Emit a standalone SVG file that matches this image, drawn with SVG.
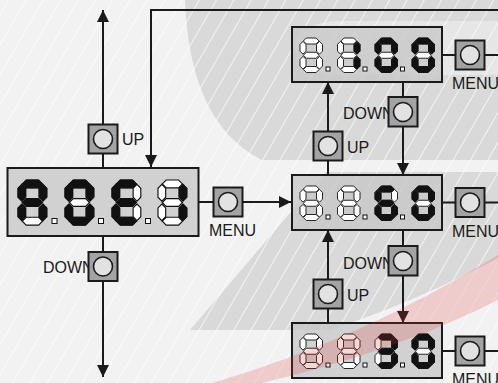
<svg xmlns="http://www.w3.org/2000/svg" xmlns:xlink="http://www.w3.org/1999/xlink" width="498" height="383" viewBox="0 0 498 383">
<defs>
<style>
.ln{stroke:#1a1a1a;stroke-width:2;fill:none}
.btn rect{fill:#a3a3a3;stroke:#1a1a1a;stroke-width:2}
.btn circle{fill:#e2e2e2;stroke:#1a1a1a;stroke-width:1.6}
.lbl{font-family:"Liberation Sans",Arial,sans-serif;font-size:16px;fill:#1a1a1a}
.disp{fill:#c6c6c6;fill-opacity:.75;stroke:#1a1a1a;stroke-width:2}
.on{fill:#111;stroke:#111}
.dot{fill:#fff;stroke:#111;stroke-width:1}
</style>
<pattern id="hatch" patternUnits="userSpaceOnUse" width="15" height="15" patternTransform="rotate(30)">
<line x1="7.5" y1="0" x2="7.5" y2="15" stroke="#fff" stroke-width="0.9"/>
</pattern>
<marker id="ar" viewBox="0 0 12 12" refX="12" refY="6" markerWidth="12" markerHeight="12" markerUnits="userSpaceOnUse" orient="auto">
<path d="M0,0 L12,6 L0,12 Z" fill="#1a1a1a"/>
</marker>
<polygon id="sa" points="4.5,4 8.5,0 21.5,0 25.5,4 21.5,8 8.5,8"/>
<polygon id="sg" points="4.5,23 8.5,19 21.5,19 25.5,23 21.5,27 8.5,27"/>
<polygon id="sd" points="4.5,42 8.5,38 21.5,38 25.5,42 21.5,46 8.5,46"/>
<polygon id="sf" points="4,4.5 8,8.5 8,17.5 4,21.5 0,17.5 0,8.5"/>
<polygon id="sb" points="26,4.5 30,8.5 30,17.5 26,21.5 22,17.5 22,8.5"/>
<polygon id="se" points="4,24.5 8,28.5 8,37.5 4,41.5 0,37.5 0,28.5"/>
<polygon id="sc" points="26,24.5 30,28.5 30,37.5 26,41.5 22,37.5 22,28.5"/>
<g id="d8" fill="#fff" stroke="#111" stroke-width="1.2">
<use href="#sa"/><use href="#sb"/><use href="#sc"/><use href="#sd"/><use href="#se"/><use href="#sf"/><use href="#sg"/>
</g>
</defs>

<!-- background -->
<rect width="498" height="383" fill="#f2f2f2"/>
<path d="M185,0 H498 V160 H262 C212,135 188,80 185,0 Z" fill="#d9d9d9"/>
<path d="M498,21 H340 C310,21 295,35 295,50 C295,65 310,75 340,75 H498 Z" fill="#e6e6e6"/>
<path d="M325,172 H498 V258 Q420,300 330,330 H190 Z" fill="#d9d9d9"/>
<rect width="498" height="383" fill="url(#hatch)" opacity="0.75"/>

<!-- connectors -->
<g id="connectors" class="ln">
<line x1="103" y1="168" x2="103" y2="10" marker-end="url(#ar)"/>
<line x1="103" y1="236" x2="103" y2="377" marker-end="url(#ar)"/>
<path d="M498,10 H151 V167" marker-end="url(#ar)"/>
<line x1="198.5" y1="202" x2="291" y2="202" marker-end="url(#ar)"/>
<line x1="442" y1="55" x2="498" y2="55"/>
<line x1="442" y1="202.5" x2="498" y2="202.5"/>
<line x1="442" y1="351" x2="498" y2="351"/>
<line x1="328" y1="175" x2="328" y2="82" marker-end="url(#ar)"/>
<line x1="403" y1="82" x2="403" y2="175" marker-end="url(#ar)"/>
<line x1="328" y1="323" x2="328" y2="230" marker-end="url(#ar)"/>
<line x1="403" y1="230" x2="403" y2="323" marker-end="url(#ar)"/>
</g>

<!-- main display -->
<g id="display-main">
<rect class="disp" x="7.5" y="168" width="191" height="68"/>
<g transform="translate(18,180) scale(0.96,0.98)"><use href="#d8"/><use href="#sa" class="on"/><use href="#sb" class="on"/><use href="#sc" class="on"/><use href="#se" class="on"/><use href="#sf" class="on"/><use href="#sg" class="on"/></g>
<g transform="translate(65,180) scale(0.96,0.98)"><use href="#d8"/><use href="#sa" class="on"/><use href="#sb" class="on"/><use href="#sc" class="on"/><use href="#sd" class="on"/><use href="#se" class="on"/><use href="#sf" class="on"/></g>
<g transform="translate(112,180) scale(0.96,0.98)"><use href="#d8"/><use href="#sa" class="on"/><use href="#sd" class="on"/><use href="#se" class="on"/><use href="#sf" class="on"/><use href="#sg" class="on"/></g>
<g transform="translate(158,180) scale(0.96,0.98)"><use href="#d8"/><use href="#sb" class="on"/><use href="#sc" class="on"/></g>
<rect class="dot" x="52" y="218.5" width="5" height="5"/>
<rect class="dot" x="98.5" y="218.5" width="5" height="5"/>
<rect class="dot" x="145.5" y="218.5" width="5" height="5"/>
</g>

<!-- display 100 -->
<g id="display-100">
<rect class="disp" x="292" y="27" width="150" height="55"/>
<g transform="translate(300,38) scale(0.75)"><use href="#d8"/></g>
<g transform="translate(337.5,38) scale(0.75)"><use href="#d8"/><use href="#sb" class="on"/><use href="#sc" class="on"/></g>
<g transform="translate(375,38) scale(0.75)"><use href="#d8"/><use href="#sa" class="on"/><use href="#sb" class="on"/><use href="#sc" class="on"/><use href="#sd" class="on"/><use href="#se" class="on"/><use href="#sf" class="on"/></g>
<g transform="translate(412,38) scale(0.75)"><use href="#d8"/><use href="#sa" class="on"/><use href="#sb" class="on"/><use href="#sc" class="on"/><use href="#sd" class="on"/><use href="#se" class="on"/><use href="#sf" class="on"/></g>
<rect class="dot" x="326" y="67" width="4" height="4"/>
<rect class="dot" x="363" y="67" width="4" height="4"/>
<rect class="dot" x="400.5" y="67" width="4" height="4"/>
</g>

<!-- display 60 -->
<g id="display-60">
<rect class="disp" x="292" y="175" width="150" height="55"/>
<g transform="translate(300,186) scale(0.75)"><use href="#d8"/></g>
<g transform="translate(337.5,186) scale(0.75)"><use href="#d8"/></g>
<g transform="translate(375,186) scale(0.75)"><use href="#d8"/><use href="#sa" class="on"/><use href="#sc" class="on"/><use href="#sd" class="on"/><use href="#se" class="on"/><use href="#sf" class="on"/><use href="#sg" class="on"/></g>
<g transform="translate(412,186) scale(0.75)"><use href="#d8"/><use href="#sa" class="on"/><use href="#sb" class="on"/><use href="#sc" class="on"/><use href="#sd" class="on"/><use href="#se" class="on"/><use href="#sf" class="on"/></g>
<rect class="dot" x="326" y="215" width="4" height="4"/>
<rect class="dot" x="363" y="215" width="4" height="4"/>
<rect class="dot" x="400.5" y="215" width="4" height="4"/>
</g>

<!-- display 30 -->
<g id="display-30">
<rect class="disp" x="292" y="323" width="150" height="55"/>
<g transform="translate(300,334) scale(0.75)"><use href="#d8"/></g>
<g transform="translate(337.5,334) scale(0.75)"><use href="#d8"/></g>
<g transform="translate(375,334) scale(0.75)"><use href="#d8"/><use href="#sa" class="on"/><use href="#sb" class="on"/><use href="#sc" class="on"/><use href="#sd" class="on"/><use href="#sg" class="on"/></g>
<g transform="translate(412,334) scale(0.75)"><use href="#d8"/><use href="#sa" class="on"/><use href="#sb" class="on"/><use href="#sc" class="on"/><use href="#sd" class="on"/><use href="#se" class="on"/><use href="#sf" class="on"/></g>
<rect class="dot" x="326" y="363" width="4" height="4"/>
<rect class="dot" x="363" y="363" width="4" height="4"/>
<rect class="dot" x="400.5" y="363" width="4" height="4"/>
</g>

<!-- buttons -->
<g id="btn-up-main" class="btn"><rect x="88.5" y="124.5" width="29" height="29"/><circle cx="103" cy="139" r="9.5"/><text class="lbl" x="122" y="145">UP</text></g>
<g id="btn-down-main" class="btn"><text class="lbl" x="43" y="273">DOWN</text><rect x="88.5" y="252" width="29" height="29"/><circle cx="103" cy="266.5" r="9.5"/></g>
<g id="btn-menu-main" class="btn"><rect x="213.5" y="187.5" width="29" height="29"/><circle cx="228" cy="202" r="9.5"/><text class="lbl" x="209" y="236">MENU</text></g>
<g id="btn-menu-100" class="btn"><rect x="455.5" y="40.5" width="29" height="29"/><circle cx="470" cy="55" r="9.5"/><text class="lbl" x="452" y="89">MENU</text></g>
<g id="btn-menu-60" class="btn"><rect x="455.5" y="188" width="29" height="29"/><circle cx="470" cy="202.5" r="9.5"/><text class="lbl" x="452" y="236.5">MENU</text></g>
<g id="btn-menu-30" class="btn"><rect x="455.5" y="336.5" width="29" height="29"/><circle cx="470" cy="351" r="9.5"/><text class="lbl" x="452" y="385">MENU</text></g>
<g id="btn-down-100" class="btn"><text class="lbl" x="343" y="119">DOWN</text><rect x="388.5" y="97" width="29" height="29.5"/><circle cx="403" cy="112" r="9.5"/></g>
<g id="btn-up-60" class="btn"><rect x="313.5" y="131.5" width="29" height="29"/><circle cx="328" cy="146" r="9.5"/><text class="lbl" x="347" y="153">UP</text></g>
<g id="btn-down-60" class="btn"><text class="lbl" x="343" y="269">DOWN</text><rect x="388.5" y="246" width="29" height="29.5"/><circle cx="403" cy="261" r="9.5"/></g>
<g id="btn-up-30" class="btn"><rect x="313.5" y="279.5" width="29" height="29"/><circle cx="328" cy="294" r="9.5"/><text class="lbl" x="347" y="301">UP</text></g>

<!-- red swoosh overlay -->
<path d="M212,383 Q360,340 498,255 V300 Q400,350 262,383 Z" fill="#e53935" fill-opacity="0.2"/>
</svg>
